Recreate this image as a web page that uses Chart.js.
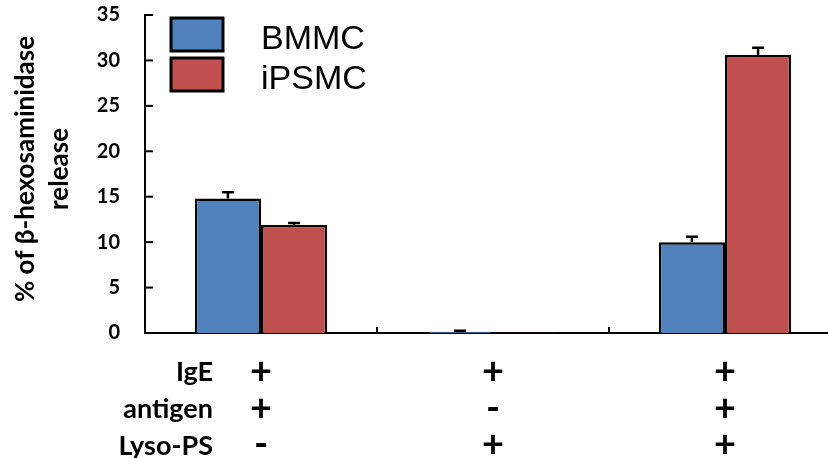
<!DOCTYPE html>
<html>
<head>
<meta charset="utf-8">
<script src="https://cdn.jsdelivr.net/npm/chart.js@4/dist/chart.umd.min.js"></script>
<style>
  html, body { margin: 0; padding: 0; background: #fff; overflow: hidden; }
  #wrap { width: 845px; height: 458px; position: relative; }
</style>
</head>
<body>
<div id="wrap"><canvas id="chart"></canvas></div>
<script>
// data
const conditions = ["IgE", "antigen", "Lyso-PS"];
const groupSigns = [["+", "+", "-"], ["+", "-", "+"], ["+", "+", "+"]];
const bmmc = [14.8, 0.15, 10.0];
const bmmcErr = [0.7, 0.1, 0.6];
const ipsmc = [11.9, 0.05, 30.6];
const ipsmcErr = [0.2, 0.0, 0.8];
const yTicks = [0, 5, 10, 15, 20, 25, 30, 35];

const FONT = "Lato, 'Open Sans', sans-serif";

// error bars (upward only), axis ticks, legend, titles
const extras = {
  id: "extras",
  afterDatasetsDraw(chart) {
    const ctx = chart.ctx;
    const x = chart.scales.x, y = chart.scales.y;
    const area = chart.chartArea;
    ctx.save();
    ctx.strokeStyle = "#000";
    ctx.lineWidth = 2.5;
    chart.data.datasets.forEach((ds, di) => {
      const meta = chart.getDatasetMeta(di);
      meta.data.forEach((bar, i) => {
        const err = ds.errors[i];
        if (!err) return;
        const top = y.getPixelForValue(ds.data[i]);
        const hi = y.getPixelForValue(ds.data[i] + err);
        ctx.beginPath();
        ctx.moveTo(bar.x, top);
        ctx.lineTo(bar.x, hi);
        ctx.moveTo(bar.x - 6, hi);
        ctx.lineTo(bar.x + 6, hi);
        ctx.stroke();
      });
    });

    ctx.lineWidth = 2;
    // y ticks pointing into the plot
    yTicks.forEach(v => {
      const py = y.getPixelForValue(v);
      ctx.beginPath();
      ctx.moveTo(area.left, py);
      ctx.lineTo(area.left + 8, py);
      ctx.stroke();
    });
    // x ticks between categories, pointing up
    for (let i = 0; i < bmmc.length - 1; i++) {
      const px = (x.getPixelForValue(i) + x.getPixelForValue(i + 1)) / 2;
      ctx.beginPath();
      ctx.moveTo(px, area.bottom);
      ctx.lineTo(px, area.bottom - 6);
      ctx.stroke();
    }

    // legend
    chart.data.datasets.forEach((ds, di) => {
      const ly = 18 + di * 40;
      ctx.fillStyle = ds.backgroundColor;
      ctx.lineWidth = 3;
      ctx.fillRect(171, ly, 52, 33);
      ctx.strokeRect(171, ly, 52, 33);
      ctx.fillStyle = "#000";
      ctx.font = "34px 'Liberation Sans', Arial, sans-serif";
      ctx.textAlign = "left";
      ctx.textBaseline = "alphabetic";
      ctx.fillText(ds.label, 261, 49 + di * 40);
    });

    // y title
    ctx.save();
    ctx.translate(26, 169);
    ctx.rotate(-Math.PI / 2);
    ctx.font = "bold 26px " + FONT;
    ctx.textAlign = "center";
    ctx.textBaseline = "middle";
    ctx.fillText("% of \u03b2-hexosaminidase", 0, 0);
    ctx.fillText("release", 0, 34);
    ctx.restore();

    // condition row names
    ctx.font = "bold 27px " + FONT;
    ctx.textAlign = "right";
    ctx.textBaseline = "middle";
    conditions.forEach((c, i) => {
      ctx.fillText(c, 213, 372 + i * 37);
    });
    ctx.restore();
  }
};

new Chart(document.getElementById("chart"), {
  type: "bar",
  data: {
    labels: groupSigns,
    datasets: [
      { label: "BMMC", data: bmmc, errors: bmmcErr, backgroundColor: "#4F81BD" },
      { label: "iPSMC", data: ipsmc, errors: ipsmcErr, backgroundColor: "#C0504D" }
    ]
  },
  options: {
    responsive: true,
    maintainAspectRatio: false,
    animation: false,
    layout: { padding: { left: 0, right: 4, top: 15, bottom: 0 } },
    datasets: {
      bar: {
        borderColor: "#000",
        borderWidth: 2.5,
        categoryPercentage: 0.57,
        barPercentage: 1.0
      }
    },
    plugins: { legend: { display: false }, tooltip: { enabled: false } },
    scales: {
      x: {
        grid: { display: false, drawTicks: false },
        border: { color: "#000", width: 2 },
        ticks: {
          color: "#000",
          padding: 20,
          font: { family: FONT, size: 38, weight: "bold", lineHeight: 0.97 }
        },
        afterFit(s) { s.height = 125; s.paddingLeft = 0; s.paddingRight = 0; }
      },
      y: {
        min: 0,
        max: 35,
        grid: { display: false, drawTicks: false },
        border: { color: "#000", width: 2 },
        afterBuildTicks(s) { s.ticks = yTicks.map(v => ({ value: v })); },
        ticks: {
          color: "#000",
          padding: 25,
          font: { family: FONT, size: 20, weight: "bold" }
        },
        afterFit(s) { s.width = 145; s.paddingTop = 0; s.paddingBottom = 0; }
      }
    }
  },
  plugins: [extras]
});
</script>
</body>
</html>
